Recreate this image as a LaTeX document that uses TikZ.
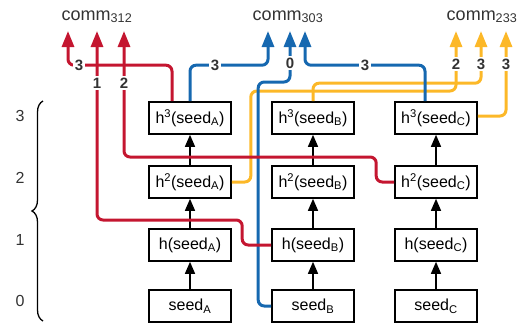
\documentclass[tikz,border=0pt]{standalone}
\usepackage{fontspec}
\setmainfont{Liberation Sans}
\usetikzlibrary{arrows.meta,positioning,decorations.pathreplacing}
\definecolor{commred}{RGB}{196,22,48}
\definecolor{commblue}{RGB}{22,104,176}
\definecolor{commorange}{RGB}{252,184,40}
\definecolor{labelgray}{RGB}{51,51,51}

\begin{document}
\begin{tikzpicture}[x=1pt, y=-1pt, every node/.style={align=center},
  seedbox/.style={draw, line width=1.6pt, minimum width=82pt, minimum height=32pt, inner sep=0pt, font=\fontsize{16}{18}\selectfont},
  chain/.style={-{Triangle[length=12pt,width=10pt]}, line width=1.4pt},
  commline/.style={line width=3pt, rounded corners=6pt, -{Triangle[length=16pt,width=12pt]}},
  numlabel/.style={fill=white, inner sep=1.5pt, font=\fontsize{15}{17}\selectfont\bfseries, text=labelgray},
  levellabel/.style={font=\fontsize{16}{18}\selectfont, text=labelgray},
  commlabel/.style={anchor=base, font=\fontsize{18}{20}\selectfont, text=labelgray}]
\useasboundingbox (0,0) rectangle (526,324);

% Hash chain boxes
\node[seedbox] (a0) at (190,306) {seed\textsubscript{A}};
\node[seedbox] (a1) at (190,245) {h(seed\textsubscript{A})};
\node[seedbox] (a2) at (190,182) {h\textsuperscript{2}(seed\textsubscript{A})};
\node[seedbox] (a3) at (190,118) {h\textsuperscript{3}(seed\textsubscript{A})};
\node[seedbox] (b0) at (313,306) {seed\textsubscript{B}};
\node[seedbox] (b1) at (313,245) {h(seed\textsubscript{B})};
\node[seedbox] (b2) at (313,182) {h\textsuperscript{2}(seed\textsubscript{B})};
\node[seedbox] (b3) at (313,118) {h\textsuperscript{3}(seed\textsubscript{B})};
\node[seedbox] (c0) at (436,306) {seed\textsubscript{C}};
\node[seedbox] (c1) at (436,245) {h(seed\textsubscript{C})};
\node[seedbox] (c2) at (436,182) {h\textsuperscript{2}(seed\textsubscript{C})};
\node[seedbox] (c3) at (436,118) {h\textsuperscript{3}(seed\textsubscript{C})};

% Chain arrows
\draw[chain] (a0) -- (a1);
\draw[chain] (a1) -- (a2);
\draw[chain] (a2) -- (a3);
\draw[chain] (b0) -- (b1);
\draw[chain] (b1) -- (b2);
\draw[chain] (b2) -- (b3);
\draw[chain] (c0) -- (c1);
\draw[chain] (c1) -- (c2);
\draw[chain] (c2) -- (c3);

% Levels
\draw[decorate, decoration={brace, amplitude=11pt}, line width=1.3pt] (43,321) -- (43,101);
\node[levellabel] (l3) at (20,116) {3};
\node[levellabel] (l2) at (20,178) {2};
\node[levellabel] (l1) at (20,240) {1};
\node[levellabel] (l0) at (20,301) {0};

% Commitments
\node[commlabel] (comm312) at (97,20) {comm\textsubscript{312}};
\node[commlabel] (comm303) at (288,20) {comm\textsubscript{303}};
\node[commlabel] (comm233) at (482,20) {comm\textsubscript{233}};
\coordinate (r1) at (68,31);
\coordinate (r2) at (97,31);
\coordinate (r3) at (124,31);
\coordinate (u1) at (268,31);
\coordinate (u2) at (290,31);
\coordinate (u3) at (305,31);
\coordinate (o1) at (456,31);
\coordinate (o2) at (481,31);
\coordinate (o3) at (506,31);

% Orange lines
\draw[commline, commorange] (a2.east) -- ++(19,0) -- ++(0,-91) -| (o1);
\draw[commline, commorange] (b3.north) -- ++(0,-18) -| (o2);
\draw[commline, commorange] ([yshift=2pt]c3.east) -| (o3);

% Blue lines
\draw[commline, commblue] (a3.north) -- ++(0,-36) -| (u1);
\draw[commline, commblue] (b0.west) -| ++(-13,-224) -| (u2);
\draw[commline, commblue] ([xshift=-11pt]c3.north) -- ++(0,-36) -| (u3);

% Red lines
\draw[commline, commred] ([xshift=-18pt]a3.north) -- ++(0,-36) -| (r1);
\draw[commline, commred] (b1.west) -- ++(-29,0) -- ++(0,-25) -| (r2);
\draw[commline, commred] (c2.west) -- ++(-18,0) -- ++(0,-25) -| (r3);

% Line labels
\node[numlabel] (n1) at (79,65) {3};
\node[numlabel] (n2) at (97,83) {1};
\node[numlabel] (n3) at (124,83) {2};
\node[numlabel] (n4) at (215,65) {3};
\node[numlabel] (n5) at (290,63) {0};
\node[numlabel] (n6) at (365,65) {3};
\node[numlabel] (n7) at (456,64) {2};
\node[numlabel] (n8) at (481,64) {3};
\node[numlabel] (n9) at (506,64) {3};
\end{tikzpicture}
\end{document}
